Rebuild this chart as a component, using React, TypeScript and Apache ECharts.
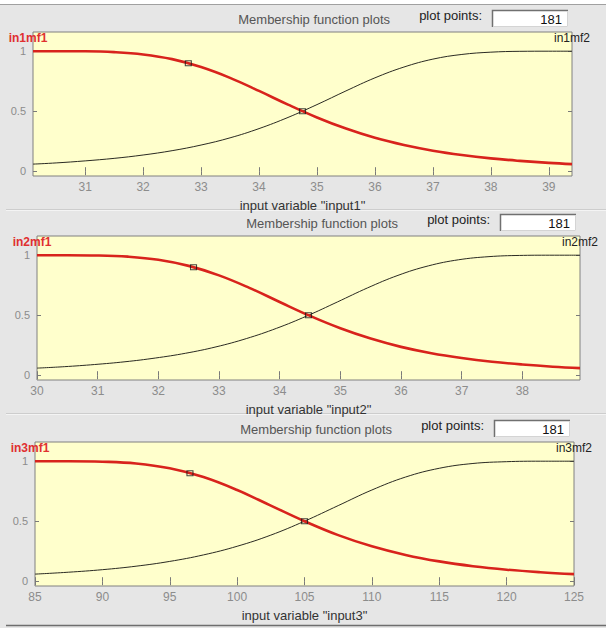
import React, { useEffect, useRef } from "react";
import * as echarts from "echarts";

// ---------- data ----------
const variableNames = ["input1", "input2", "input3"];
const leftMfLabels = ["in1mf1", "in2mf1", "in3mf1"];
const rightMfLabels = ["in1mf2", "in2mf2", "in3mf2"];
const plotPointsValue = "181";
const titleText = "Membership function plots";
const plotPointsLabel = "plot points:";

const xMin = [30.1, 30, 85];
const xMax = [39.4, 38.95, 125];
const xTicks1 = [31, 32, 33, 34, 35, 36, 37, 38, 39];
const xTicks2 = [30, 31, 32, 33, 34, 35, 36, 37, 38];
const xTicks3 = [85, 90, 95, 100, 105, 110, 115, 120, 125];
const yTicks = [0, 0.5, 1];

// panel 1 (input1)
const p1RedX = [30.1, 30.5, 31, 31.5, 32, 32.5, 33, 33.5, 34, 34.5, 35, 35.5, 36, 36.5, 37, 37.5, 38, 38.5, 39, 39.4];
const p1RedY = [1, 1, 0.999, 0.992, 0.973, 0.934, 0.868, 0.778, 0.669, 0.555, 0.448, 0.355, 0.278, 0.218, 0.171, 0.135, 0.107, 0.086, 0.069, 0.059];
const p1BlackX = [30.1, 30.5, 31, 31.5, 32, 32.5, 33, 33.5, 34, 34.5, 35, 35.5, 36, 36.5, 37, 37.5, 38, 38.5, 39, 39.4];
const p1BlackY = [0.059, 0.069, 0.086, 0.107, 0.135, 0.171, 0.218, 0.278, 0.355, 0.448, 0.555, 0.669, 0.778, 0.868, 0.934, 0.973, 0.992, 0.999, 1, 1];
const p1MarkX = [32.78, 34.75];
const p1MarkY = [0.9, 0.5];

// panel 2 (input2)
const p2RedX = [30, 30.5, 31, 31.5, 32, 32.5, 33, 33.5, 34, 34.5, 35, 35.5, 36, 36.5, 37, 37.5, 38, 38.5, 38.95];
const p2RedY = [1, 1, 0.998, 0.988, 0.962, 0.911, 0.832, 0.728, 0.61, 0.494, 0.391, 0.305, 0.236, 0.183, 0.143, 0.112, 0.089, 0.071, 0.059];
const p2BlackX = [30, 30.45, 30.95, 31.45, 31.95, 32.45, 32.95, 33.45, 33.95, 34.45, 34.95, 35.45, 35.95, 36.45, 36.95, 37.45, 37.95, 38.45, 38.95];
const p2BlackY = [0.059, 0.071, 0.089, 0.112, 0.143, 0.183, 0.236, 0.305, 0.391, 0.494, 0.61, 0.728, 0.832, 0.911, 0.962, 0.988, 0.998, 1, 1];
const p2MarkX = [32.58, 34.475];
const p2MarkY = [0.9, 0.5];

// panel 3 (input3)
const p3RedX = [85, 87.5, 90, 92.5, 95, 97.5, 100, 102.5, 105, 107.5, 110, 112.5, 115, 117.5, 120, 122.5, 125];
const p3RedY = [1, 1, 0.996, 0.981, 0.941, 0.868, 0.76, 0.63, 0.5, 0.384, 0.291, 0.219, 0.165, 0.125, 0.096, 0.075, 0.059];
const p3BlackX = [85, 87.5, 90, 92.5, 95, 97.5, 100, 102.5, 105, 107.5, 110, 112.5, 115, 117.5, 120, 122.5, 125];
const p3BlackY = [0.059, 0.075, 0.096, 0.125, 0.165, 0.219, 0.291, 0.384, 0.5, 0.63, 0.76, 0.868, 0.941, 0.981, 0.996, 1, 1];
const p3MarkX = [96.5, 105];
const p3MarkY = [0.9, 0.5];

// ---------- layout / style ----------
const W = 606;
const H = 628;
const FONT = "Liberation Sans, Arial, sans-serif";
const layout = [
  { L: 33, R: 572, T: 32, h: 144 },
  { L: 37, R: 580, T: 236, h: 144 },
  { L: 35, R: 574, T: 442, h: 144 },
];
const Y_MIN = -0.04;
const Y_MAX = 1.16;
const BG = "#e6e6e6";
const PLOT_BG = "#ffffcc";
const RED = "#d8231c";
const BLACK = "#2a2a22";

const zip = (xs: number[], ys: number[]) => xs.map((x, i) => [x, ys[i]]);

export default function App() {
  const ref = useRef<HTMLDivElement>(null);
  useEffect(() => {
    if (!ref.current) return;
    const chart = echarts.init(ref.current, null, { renderer: "svg", width: W, height: H });

    const xTickSets = [xTicks1, xTicks2, xTicks3];
    const reds = [zip(p1RedX, p1RedY), zip(p2RedX, p2RedY), zip(p3RedX, p3RedY)];
    const blacks = [zip(p1BlackX, p1BlackY), zip(p2BlackX, p2BlackY), zip(p3BlackX, p3BlackY)];
    const marks = [zip(p1MarkX, p1MarkY), zip(p2MarkX, p2MarkY), zip(p3MarkX, p3MarkY)];

    const grid: any[] = [];
    const xAxis: any[] = [];
    const yAxis: any[] = [];
    const series: any[] = [];
    const graphic: any[] = [];

    // top white strip
    graphic.push({ type: "rect", shape: { x: 0, y: 0, width: W, height: 4 }, style: { fill: "#ffffff" }, silent: true });
    graphic.push({ type: "line", shape: { x1: 0, y1: 4.5, x2: W, y2: 4.5 }, style: { stroke: "#a0a0a0", lineWidth: 1 }, silent: true });

    layout.forEach((p, i) => {
      const tickLine = { color: "#7a7a7a", width: 1 };
      grid.push({
        left: p.L, top: p.T, width: p.R - p.L, height: p.h,
        show: true, backgroundColor: PLOT_BG, borderColor: "#808080", borderWidth: 1,
        containLabel: false,
      });
      const ticks = xTickSets[i];
      xAxis.push({
        gridIndex: i, type: "value", min: xMin[i], max: xMax[i], position: "bottom",
        axisLine: { show: false },
        axisTick: { show: true, inside: true, length: 4, lineStyle: tickLine, customValues: ticks },
        axisLabel: { show: true, customValues: ticks, color: "#8c8c8c", fontSize: 12, fontFamily: FONT, margin: 5 },
        splitLine: { show: false },
        name: 'input variable "' + variableNames[i] + '"',
        nameLocation: "middle", nameGap: 23,
        nameTextStyle: { color: "#333333", fontSize: 13, fontFamily: FONT },
      });
      xAxis.push({
        gridIndex: i, type: "value", min: xMin[i], max: xMax[i], position: "top",
        axisLine: { show: false },
        axisTick: { show: true, inside: true, length: 4, lineStyle: tickLine, customValues: ticks },
        axisLabel: { show: false },
        splitLine: { show: false },
      });
      yAxis.push({
        gridIndex: i, type: "value", min: Y_MIN, max: Y_MAX, position: "left",
        axisLine: { show: false },
        axisTick: { show: true, inside: true, length: 4, lineStyle: tickLine, customValues: yTicks },
        axisLabel: { show: true, customValues: yTicks, color: "#8c8c8c", fontSize: 11, fontFamily: FONT, margin: 7 },
        splitLine: { show: false },
      });
      yAxis.push({
        gridIndex: i, type: "value", min: Y_MIN, max: Y_MAX, position: "right",
        axisLine: { show: false },
        axisTick: { show: true, inside: true, length: 4, lineStyle: tickLine, customValues: yTicks },
        axisLabel: { show: false },
        splitLine: { show: false },
      });

      series.push({
        type: "line", xAxisIndex: 2 * i, yAxisIndex: 2 * i, data: blacks[i], smooth: 0.4,
        symbol: "none", lineStyle: { color: BLACK, width: 1 }, z: 2, silent: true,
      });
      series.push({
        type: "line", xAxisIndex: 2 * i, yAxisIndex: 2 * i, data: reds[i], smooth: 0.4,
        symbol: "none", lineStyle: { color: RED, width: 2.6 }, z: 3, silent: true,
      });
      series.push({
        type: "scatter", xAxisIndex: 2 * i, yAxisIndex: 2 * i, data: marks[i],
        symbol: "rect", symbolSize: [6, 5],
        itemStyle: { color: "rgba(0,0,0,0)", borderColor: "#1a1a1a", borderWidth: 1 }, z: 4, silent: true,
      });

      // header: title, plot points box
      const boxW = 76, boxH = 17;
      const boxX = p.R - 4 - boxW;
      const boxY = p.T - 22;
      graphic.push({ type: "rect", shape: { x: boxX, y: boxY, width: boxW, height: boxH }, style: { fill: "#ffffff" }, silent: true });
      graphic.push({ type: "polyline", shape: { points: [[boxX + 0.5, boxY + boxH], [boxX + 0.5, boxY + 0.5], [boxX + boxW, boxY + 0.5]] }, style: { stroke: "#707070", lineWidth: 1.5, fill: null }, silent: true });
      graphic.push({ type: "polyline", shape: { points: [[boxX + 1, boxY + boxH - 0.5], [boxX + boxW - 0.5, boxY + boxH - 0.5], [boxX + boxW - 0.5, boxY + 1]] }, style: { stroke: "#d4d4d4", lineWidth: 1, fill: null }, silent: true });
      graphic.push({ type: "text", x: boxX + boxW - 6, y: boxY + boxH / 2 + 1, style: { text: plotPointsValue, fill: "#111111", font: "13px " + FONT, textAlign: "right", textVerticalAlign: "middle" }, silent: true });
      graphic.push({ type: "text", x: boxX - 10, y: boxY + 5, style: { text: plotPointsLabel, fill: "#222222", font: "13px " + FONT, textAlign: "right", textVerticalAlign: "middle" }, silent: true });
      graphic.push({ type: "text", x: boxX - 102, y: boxY + 9, style: { text: titleText, fill: "#555555", font: "13px " + FONT, textAlign: "right", textVerticalAlign: "middle" }, silent: true });

      // mf labels
      graphic.push({ type: "text", x: p.L - 5, y: p.T + 6, style: { text: leftMfLabels[i], fill: "#e03030", font: "bold 12px " + FONT, textAlign: "center", textVerticalAlign: "middle" }, z: 10, silent: true });
      graphic.push({ type: "text", x: p.R, y: p.T + 6, style: { text: rightMfLabels[i], fill: "#222222", font: "12px " + FONT, textAlign: "center", textVerticalAlign: "middle" }, z: 10, silent: true });

      // separator below the panel
      const sepY = i < 2 ? p.T + p.h + 33 : H - 3;
      graphic.push({ type: "line", shape: { x1: 6, y1: sepY + 0.5, x2: W, y2: sepY + 0.5 }, style: { stroke: i < 2 ? "#cdcdcd" : "#6e6e6e", lineWidth: i < 2 ? 1 : 1.5 }, silent: true });
      if (i < 2) graphic.push({ type: "line", shape: { x1: 6, y1: sepY + 1.5, x2: W, y2: sepY + 1.5 }, style: { stroke: "#f4f4f4", lineWidth: 1 }, silent: true });
    });

    chart.setOption({
      animation: false,
      backgroundColor: BG,
      grid, xAxis, yAxis, series, graphic,
    });
    return () => chart.dispose();
  }, []);
  return <div ref={ref} style={{ position: "absolute", left: 0, top: 0, width: W, height: H }} />;
}
